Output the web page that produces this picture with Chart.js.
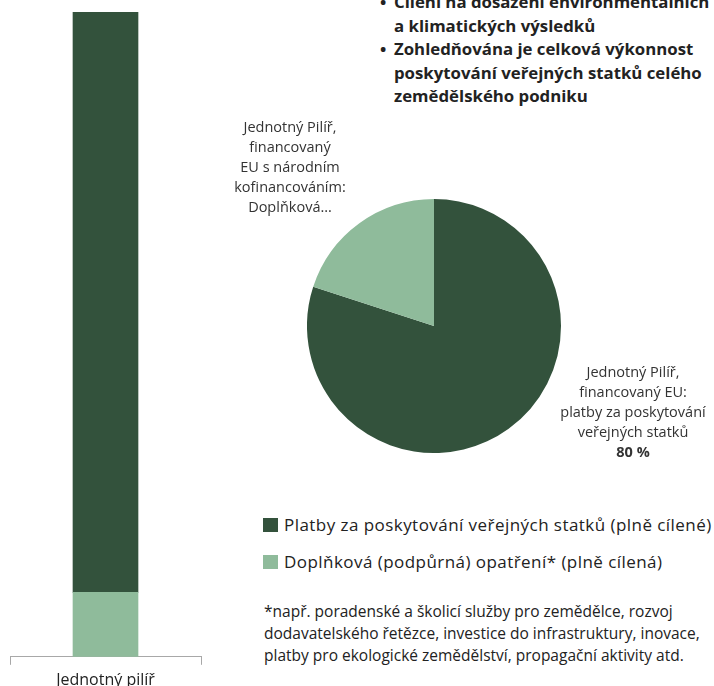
<!DOCTYPE html>
<html>
<head>
<meta charset="utf-8">
<script src="https://cdn.jsdelivr.net/npm/chart.js@4"></script>
<style>
  body { margin: 0; background: #fff; }
  #page { position: relative; width: 714px; height: 686px; overflow: hidden; font-family: "Open Sans", sans-serif; color: #2b2b2b; }
  #bar-wrap { position: absolute; left: -2px; top: 0; width: 205px; height: 696px; }
  #pie-wrap { position: absolute; left: 307px; top: 199px; width: 254px; height: 254px; }
  .bullets { position: absolute; left: 380px; top: -10px; font-weight: 700; font-size: 16.8px; line-height: 23.5px; color: #222; }
  .bullets div { position: relative; padding-left: 14px; white-space: nowrap; }
  .bullets div.b::before { content: '•'; position: absolute; left: 0; }
  .plabel { position: absolute; text-align: center; font-size: 14.5px; line-height: 20px; color: #333; }
  .legend { position: absolute; left: 263px; top: 506px; font-size: 17px; letter-spacing: 0.45px; color: #222; white-space: nowrap; }
  .legend .item { display: flex; align-items: center; height: 37px; }
  .legend .sw { width: 15px; height: 14px; margin-right: 6px; flex: none; }
  .note { position: absolute; left: 264px; top: 600px; font-size: 15.5px; line-height: 22px; color: #222; white-space: nowrap; }
</style>
</head>
<body>
<div id="page">
  <div id="bar-wrap"><canvas id="bar"></canvas></div>
  <div id="pie-wrap"><canvas id="pie"></canvas></div>
  <div class="bullets">
    <div class="b">Cílení na dosažení environmentálních</div>
    <div>a klimatických výsledků</div>
    <div class="b">Zohledňována je celková výkonnost</div>
    <div>poskytování veřejných statků celého</div>
    <div>zemědělského podniku</div>
  </div>
  <div class="plabel" id="lbl-light" style="left:210px; top:117px; width:160px;"></div>
  <div class="plabel" id="lbl-dark" style="left:548px; top:362px; width:170px;"></div>
  <div class="legend" id="legend"></div>
  <div class="note">*např. poradenské a školicí služby pro zemědělce, rozvoj<br>dodavatelského řetězce, investice do infrastruktury, inovace,<br>platby pro ekologické zemědělství, propagační aktivity atd.</div>
</div>
<script>
  // data
  const barCategories = ['Jednotný pilíř'];
  const barDark = [90];
  const barLight = [10];

  const pieLabels = ['Platby za poskytování veřejných statků (plně cílené)', 'Doplňková (podpůrná) opatření* (plně cílená)'];
  const pieValues = [80, 20];
  const pieColors = ['#33523c', '#8fbb9b'];

  const sliceText = [
    ['Jednotný Pilíř,', 'financovaný EU:', 'platby za poskytování', 'veřejných statků'],
    ['Jednotný Pilíř,', 'financovaný', 'EU s národním', 'kofinancováním:', 'Doplňková...']
  ];

  new Chart(document.getElementById('bar'), {
    type: 'bar',
    data: {
      labels: barCategories,
      datasets: [
        { label: pieLabels[1], data: barLight, backgroundColor: pieColors[1], barThickness: 65 },
        { label: pieLabels[0], data: barDark, backgroundColor: pieColors[0], barThickness: 65 }
      ]
    },
    options: {
      responsive: true,
      maintainAspectRatio: false,
      animation: false,
      layout: { padding: { left: 12, right: 2, top: 12, bottom: 0 } },
      plugins: { legend: { display: false }, tooltip: { enabled: false } },
      scales: {
        x: {
          stacked: true,
          grid: { drawOnChartArea: false, tickLength: 8, color: '#a8a8a8' },
          border: { color: '#a8a8a8' },
          ticks: { color: '#222', font: { family: 'Open Sans', size: 16 }, padding: 6 }
        },
        y: { stacked: true, display: false, min: 0, max: 100 }
      }
    }
  });

  new Chart(document.getElementById('pie'), {
    type: 'pie',
    data: {
      labels: pieLabels,
      datasets: [{ data: pieValues, backgroundColor: pieColors, borderWidth: 0 }]
    },
    options: {
      responsive: true,
      maintainAspectRatio: false,
      animation: false,
      layout: { padding: 0 },
      plugins: { legend: { display: false }, tooltip: { enabled: false } }
    }
  });

  // slice labels
  document.getElementById('lbl-dark').innerHTML = sliceText[0].join('<br>') + '<br><b>' + pieValues[0] + ' %</b>';
  document.getElementById('lbl-light').innerHTML = sliceText[1].join('<br>');

  // legend
  const lg = document.getElementById('legend');
  pieLabels.forEach((l, i) => {
    const it = document.createElement('div');
    it.className = 'item';
    it.innerHTML = `<span class="sw" style="background:${pieColors[i]}"></span><span>${l}</span>`;
    lg.appendChild(it);
  });
</script>
</body>
</html>
